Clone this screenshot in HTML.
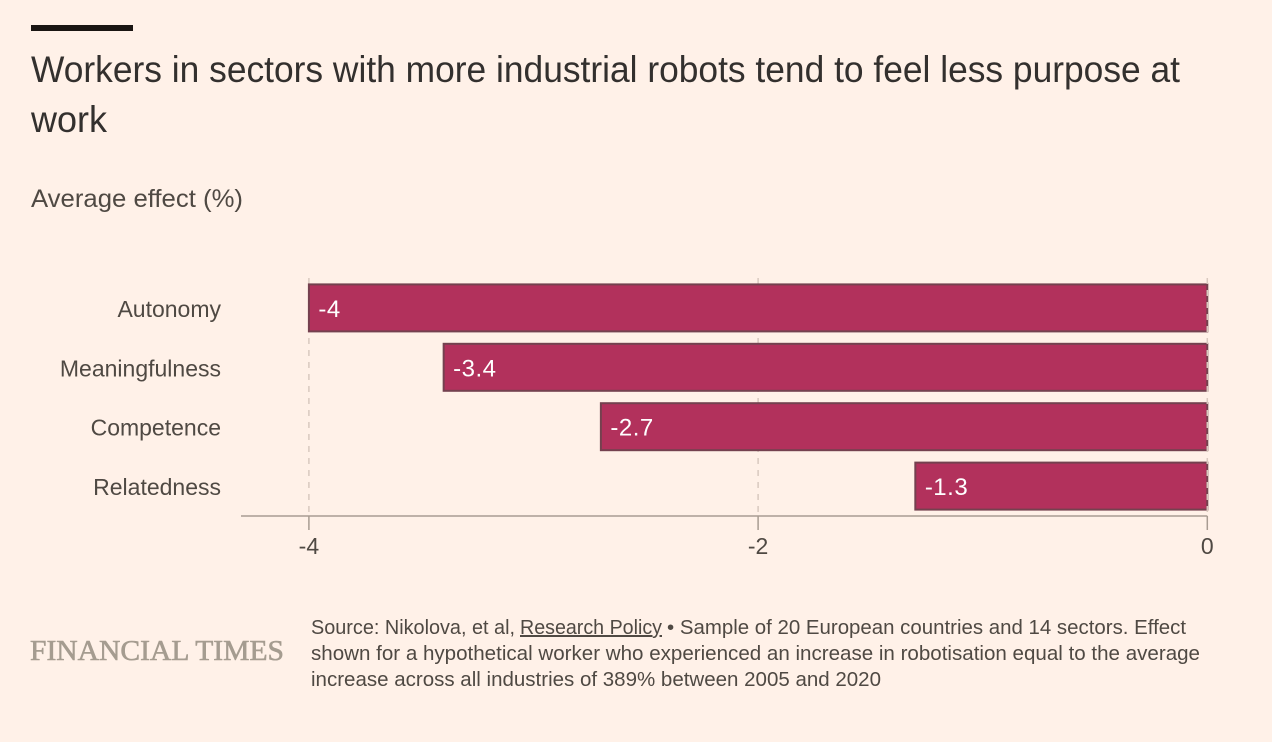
<!DOCTYPE html>
<html lang="en">
<head>
<meta charset="utf-8">
<title>Workers in sectors with more industrial robots tend to feel less purpose at work</title>
<style>
html,body{margin:0;padding:0;background:#fff1e8;}
svg{display:block;font-family:"Liberation Sans",sans-serif;}
</style>
</head>
<body>
<svg id="chart" width="1272" height="742" viewBox="0 0 1272 742" xmlns="http://www.w3.org/2000/svg">
  <rect x="0" y="0" width="1272" height="742" fill="#fff1e8"/>
  <rect x="31" y="25" width="102" height="6" fill="#1a1512"/>
  <text x="31" y="82" font-size="37" fill="#33302e" textLength="1149" lengthAdjust="spacingAndGlyphs">Workers in sectors with more industrial robots tend to feel less purpose at</text>
  <text x="31" y="132" font-size="37" fill="#33302e" textLength="76" lengthAdjust="spacingAndGlyphs">work</text>
  <text x="31" y="207" font-size="25" fill="#4f4943" textLength="212" lengthAdjust="spacingAndGlyphs">Average effect (%)</text>
  <g id="grid"></g>
  <g id="bars"></g>
  <g id="cats"></g>
  <g id="axis"></g>
  <text x="30" y="660" font-size="29" font-family="'Liberation Serif',serif" fill="#a59c90" stroke="#a59c90" stroke-width="0.6" textLength="254" lengthAdjust="spacingAndGlyphs">FINANCIAL TIMES</text>
  <g font-size="20" fill="#4f4943">
    <text x="311" y="634" textLength="204" lengthAdjust="spacingAndGlyphs">Source: Nikolova, et al,</text>
    <text x="520" y="634" text-decoration="underline" textLength="142" lengthAdjust="spacingAndGlyphs">Research Policy</text>
    <text x="667" y="634" textLength="519" lengthAdjust="spacingAndGlyphs">• Sample of 20 European countries and 14 sectors. Effect</text>
    <text x="311" y="660" textLength="889" lengthAdjust="spacingAndGlyphs">shown for a hypothetical worker who experienced an increase in robotisation equal to the average</text>
    <text x="311" y="686" textLength="570" lengthAdjust="spacingAndGlyphs">increase across all industries of 389% between 2005 and 2020</text>
  </g>
</svg>
<script>
const categories = ["Autonomy", "Meaningfulness", "Competence", "Relatedness"];
const effects = [-4, -3.4, -2.7, -1.3];
const tickValues = [-4, -2, 0];

const NS = "http://www.w3.org/2000/svg";
function xScale(v) { return 1207.3 + v * 224.6; }
function yBand(i) { return 284.4 + i * 59.4; }
const BAND_H = 47;
const AXIS_Y = 516;

function make(parent, tag, attrs, text) {
  const el = document.createElementNS(NS, tag);
  for (const k in attrs) el.setAttribute(k, attrs[k]);
  if (text !== undefined) el.textContent = text;
  parent.appendChild(el);
  return el;
}

const gridG = document.getElementById("grid");
const barsG = document.getElementById("bars");
const catsG = document.getElementById("cats");
const axisG = document.getElementById("axis");

tickValues.filter(function (t) { return t !== 0; }).forEach(function (t) {
  const line = make(gridG, "line", { x1: xScale(t), x2: xScale(t), y1: 278, y2: AXIS_Y, stroke: "#d9c9bf", "stroke-width": 1.5, "stroke-dasharray": "6 6" });
  
  
});

categories.forEach(function (c, i) {
  const x0 = xScale(effects[i]);
  const x1 = xScale(0);
  const y = yBand(i);
  const bar = make(barsG, "rect", { x: x0, y: y, width: x1 - x0, height: BAND_H, fill: "#b2315c", stroke: "#74414f", "stroke-width": 2 });
  
  
  const val = make(barsG, "text", { x: x0 + 9.5, y: y + 32.5, "font-size": 24, "letter-spacing": 0.5, fill: "#ffffff" }, String(effects[i]));
  
  
  const lab = make(catsG, "text", { x: 221, y: y + 32.5, "font-size": 23, fill: "#4f4943", "text-anchor": "end" }, c);
  
  
});

const zeroLine = make(barsG, "line", { x1: xScale(0), x2: xScale(0), y1: 278, y2: AXIS_Y, stroke: "#d9c9bf", "stroke-width": 1.5, "stroke-dasharray": "6 6" });



const domain = make(axisG, "line", { x1: 241, x2: xScale(0), y1: AXIS_Y, y2: AXIS_Y, stroke: "#a89c92", "stroke-width": 1.5 });



tickValues.forEach(function (t) {
  const tick = make(axisG, "line", { x1: xScale(t), x2: xScale(t), y1: AXIS_Y, y2: 530, stroke: "#a89c92", "stroke-width": 1.5 });
  
  
  const lab = make(axisG, "text", { x: xScale(t), y: 554, "font-size": 23, fill: "#4f4943", "text-anchor": "middle" }, String(t));
  
  
});
</script>
</body>
</html>
